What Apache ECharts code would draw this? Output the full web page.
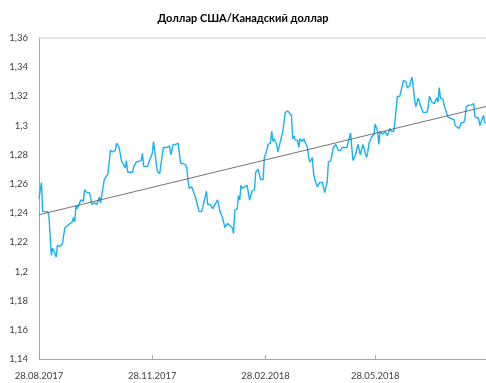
<!DOCTYPE html>
<html>
<head>
<meta charset="utf-8">
<script src="https://cdn.jsdelivr.net/npm/echarts@6/dist/echarts.min.js"></script>
<style>
  html, body { margin: 0; padding: 0; background: #fff; }
  #chart { width: 486px; height: 383px; }
</style>
</head>
<body>
<div id="chart"></div>
<script>
// USD/CAD exchange rate, Aug 2017 – Aug 2018
const titleText = 'Доллар США/Канадский доллар';

const dates = [
  '2017-08-28','2017-08-30','2017-08-31','2017-09-04','2017-09-05','2017-09-07','2017-09-08','2017-09-09',
  '2017-09-11','2017-09-12','2017-09-14','2017-09-16','2017-09-17','2017-09-18','2017-09-21','2017-09-22',
  '2017-09-24','2017-09-25','2017-09-26','2017-09-27','2017-09-28','2017-09-30','2017-10-01','2017-10-03',
  '2017-10-04','2017-10-06','2017-10-08','2017-10-09','2017-10-10','2017-10-12','2017-10-14','2017-10-16',
  '2017-10-17','2017-10-18','2017-10-20','2017-10-21','2017-10-23','2017-10-25','2017-10-26','2017-10-27',
  '2017-10-29','2017-10-30','2017-11-01','2017-11-03','2017-11-04','2017-11-06','2017-11-07','2017-11-08',
  '2017-11-12','2017-11-13','2017-11-15','2017-11-16','2017-11-19','2017-11-20','2017-11-21','2017-11-24',
  '2017-11-25','2017-11-28','2017-11-29','2017-12-02','2017-12-04','2017-12-07','2017-12-08','2017-12-10',
  '2017-12-12','2017-12-13','2017-12-15','2017-12-17','2017-12-19','2017-12-21','2017-12-23','2017-12-25',
  '2017-12-26','2017-12-27','2017-12-28','2017-12-30','2017-12-31','2018-01-02','2018-01-03','2018-01-05',
  '2018-01-07','2018-01-08','2018-01-11','2018-01-12','2018-01-14','2018-01-16','2018-01-17','2018-01-20',
  '2018-01-21','2018-01-22','2018-01-24','2018-01-25','2018-01-26','2018-01-28','2018-01-29','2018-02-01',
  '2018-02-02','2018-02-03','2018-02-05','2018-02-06','2018-02-07','2018-02-08','2018-02-09','2018-02-11',
  '2018-02-13','2018-02-15','2018-02-17','2018-02-19','2018-02-20','2018-02-22','2018-02-24','2018-02-25',
  '2018-02-26','2018-02-27','2018-03-01','2018-03-02','2018-03-04','2018-03-05','2018-03-06','2018-03-07',
  '2018-03-09','2018-03-10','2018-03-11','2018-03-14','2018-03-15','2018-03-16','2018-03-18','2018-03-19',
  '2018-03-21','2018-03-22','2018-03-23','2018-03-24','2018-03-26','2018-03-27','2018-03-28','2018-03-30',
  '2018-03-31','2018-04-03','2018-04-04','2018-04-05','2018-04-07','2018-04-08','2018-04-09','2018-04-11',
  '2018-04-12','2018-04-13','2018-04-15','2018-04-16','2018-04-17','2018-04-19','2018-04-20','2018-04-22',
  '2018-04-24','2018-04-26','2018-04-27','2018-04-28','2018-04-30','2018-05-01','2018-05-03','2018-05-05',
  '2018-05-06','2018-05-08','2018-05-09','2018-05-10','2018-05-12','2018-05-13','2018-05-14','2018-05-16',
  '2018-05-17','2018-05-18','2018-05-19','2018-05-21','2018-05-22','2018-05-23','2018-05-25','2018-05-27',
  '2018-05-28','2018-05-30','2018-05-31','2018-06-01','2018-06-02','2018-06-03','2018-06-04','2018-06-05',
  '2018-06-07','2018-06-08','2018-06-09','2018-06-10','2018-06-12','2018-06-13','2018-06-15','2018-06-17',
  '2018-06-18','2018-06-20','2018-06-22','2018-06-23','2018-06-25','2018-06-26','2018-06-27','2018-06-29',
  '2018-06-30','2018-07-01','2018-07-02','2018-07-04','2018-07-05','2018-07-06','2018-07-09','2018-07-10',
  '2018-07-11','2018-07-13','2018-07-14','2018-07-15','2018-07-17','2018-07-18','2018-07-19','2018-07-20',
  '2018-07-22','2018-07-23','2018-07-24','2018-07-26','2018-07-27','2018-07-28','2018-07-31','2018-08-01',
  '2018-08-02','2018-08-04','2018-08-05','2018-08-06','2018-08-08','2018-08-09','2018-08-10','2018-08-12',
  '2018-08-13','2018-08-14','2018-08-16','2018-08-17','2018-08-18','2018-08-20','2018-08-21','2018-08-22',
  '2018-08-24','2018-08-25','2018-08-26'
];

const rates = [
  1.250,1.261,1.241,1.241,1.239,1.211,1.216,1.216,
  1.210,1.218,1.217,1.219,1.219,1.230,1.232,1.233,
  1.234,1.237,1.234,1.245,1.243,1.247,1.249,1.248,
  1.256,1.254,1.254,1.254,1.246,1.247,1.246,1.251,
  1.247,1.246,1.263,1.263,1.267,1.283,1.284,1.282,
  1.283,1.288,1.285,1.276,1.275,1.271,1.276,1.268,
  1.268,1.272,1.275,1.275,1.276,1.281,1.272,1.272,
  1.272,1.281,1.289,1.269,1.267,1.285,1.285,1.285,
  1.286,1.280,1.287,1.287,1.288,1.274,1.274,1.273,
  1.271,1.262,1.257,1.258,1.257,1.251,1.252,1.241,
  1.241,1.244,1.255,1.246,1.246,1.243,1.242,1.249,
  1.248,1.241,1.237,1.237,1.230,1.233,1.232,1.230,
  1.226,1.242,1.243,1.252,1.249,1.259,1.257,1.258,
  1.259,1.249,1.255,1.256,1.268,1.270,1.263,1.263,
  1.263,1.278,1.283,1.287,1.288,1.296,1.289,1.291,
  1.287,1.282,1.282,1.296,1.296,1.309,1.310,1.309,
  1.307,1.291,1.293,1.290,1.290,1.285,1.291,1.289,
  1.291,1.285,1.278,1.275,1.278,1.267,1.263,1.258,
  1.258,1.261,1.261,1.258,1.254,1.261,1.275,1.276,
  1.285,1.287,1.286,1.283,1.283,1.285,1.285,1.285,
  1.285,1.295,1.285,1.276,1.280,1.279,1.287,1.280,
  1.280,1.287,1.287,1.278,1.282,1.288,1.292,1.294,
  1.301,1.296,1.287,1.296,1.296,1.294,1.295,1.296,
  1.293,1.296,1.298,1.296,1.296,1.302,1.320,1.320,
  1.320,1.331,1.330,1.326,1.327,1.331,1.333,1.318,
  1.313,1.313,1.319,1.313,1.313,1.309,1.309,1.312,
  1.320,1.316,1.316,1.315,1.319,1.316,1.326,1.319,
  1.318,1.314,1.315,1.306,1.306,1.305,1.304,1.300,
  1.300,1.298,1.299,1.302,1.302,1.305,1.313,1.314,
  1.313,1.314,1.315,1.306,1.306,1.305,1.300,1.300,
  1.307,1.302,1.302
];

// date axis labels, three months apart
const tickDates = ['2017-08-28', '2017-11-28', '2018-02-28', '2018-05-28'];
const axisStart = '2017-08-28';
const axisEnd = '2018-08-26';

const yMin = 1.14, yMax = 1.36, yStep = 0.02;

const toTime = s => new Date(s + 'T00:00:00Z').getTime();
const times = dates.map(toTime);
const series = times.map((t, i) => [t, rates[i]]);

// linear least-squares trend over the whole period
const n = times.length;
const mx = times.reduce((a, b) => a + b, 0) / n;
const my = rates.reduce((a, b) => a + b, 0) / n;
let sxy = 0, sxx = 0;
for (let i = 0; i < n; i++) {
  sxy += (times[i] - mx) * (rates[i] - my);
  sxx += (times[i] - mx) * (times[i] - mx);
}
const slope = sxy / sxx;
const icpt = my - slope * mx;
const tA = toTime(axisStart), tB = toTime(axisEnd);
const trend = [[tA, icpt + slope * tA], [tB, icpt + slope * tB]];

const pad = v => (v < 10 ? '0' : '') + v;
const fmtDate = v => {
  const d = new Date(v);
  return pad(d.getUTCDate()) + '.' + pad(d.getUTCMonth() + 1) + '.' + d.getUTCFullYear();
};
const fmtNum = v => String(+v.toFixed(2)).replace('.', ',');

const font = 'Lato, "Liberation Sans", Arial, sans-serif';
const chart = echarts.init(document.getElementById('chart'), null, { renderer: 'canvas' });

chart.setOption({
  animation: false,
  backgroundColor: '#ffffff',
  title: {
    text: titleText,
    left: 'center',
    top: 8,
    textStyle: { fontFamily: font, fontSize: 11, fontWeight: 'bold', color: '#000' }
  },
  grid: { left: 39, right: 0, top: 38, bottom: 24, containLabel: false },
  xAxis: [{
    type: 'value',
    min: tA,
    max: tB,
    axisLine: { show: true, lineStyle: { color: '#a6a6a6', width: 1 } },
    axisTick: {
      show: true, inside: true, length: 4,
      customValues: tickDates.map(toTime),
      lineStyle: { color: '#a6a6a6' }
    },
    axisLabel: {
      customValues: tickDates.map(toTime),
      formatter: fmtDate,
      fontFamily: font, fontSize: 9.5, color: '#404040', margin: 12
    },
    splitLine: { show: false }
  }, {
    type: 'value',
    position: 'top',
    min: tA,
    max: tB,
    axisLine: { show: true, onZero: false, lineStyle: { color: '#d9d9d9', width: 1.5 } },
    axisTick: { show: false },
    axisLabel: { show: false },
    splitLine: { show: false }
  }],
  yAxis: {
    type: 'value',
    min: yMin,
    max: yMax,
    interval: yStep,
    axisLine: { show: true, lineStyle: { color: '#a6a6a6', width: 1 } },
    axisTick: { show: false },
    axisLabel: { formatter: fmtNum, fontFamily: font, fontSize: 9.5, color: '#404040', margin: 11 },
    splitLine: { show: false }
  },
  series: [{
    type: 'line',
    data: series,
    showSymbol: false,
    lineStyle: { color: '#1ab2ef', width: 1.4 },
    z: 3
  }, {
    type: 'line',
    data: trend,
    showSymbol: false,
    lineStyle: { color: '#505050', width: 0.8 },
    z: 4
  }]
});
</script>
</body>
</html>
